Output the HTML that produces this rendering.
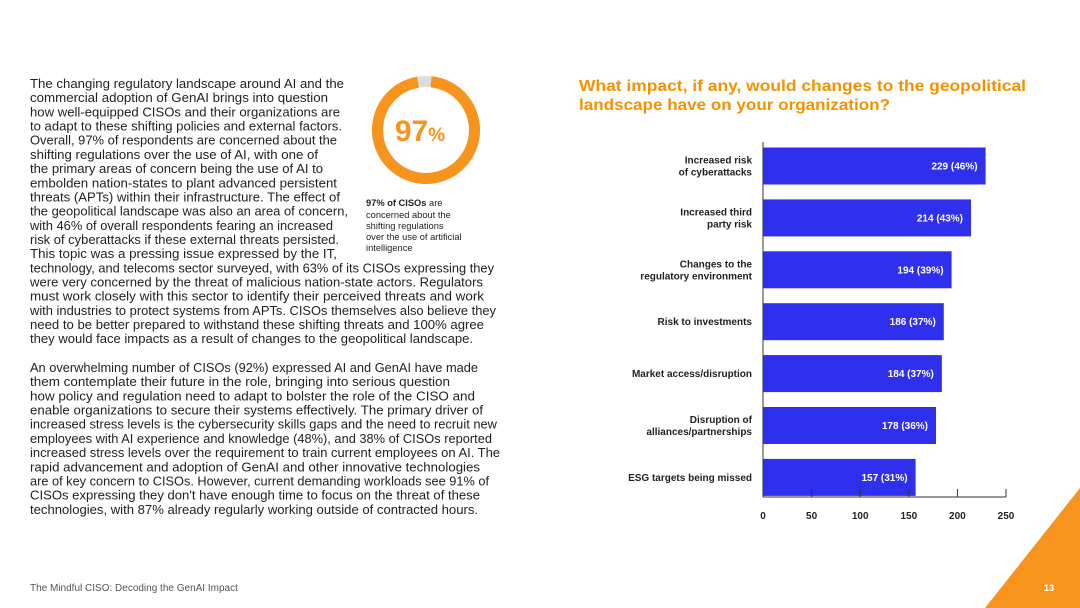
<!DOCTYPE html>
<html><head><meta charset="utf-8"><style>
html,body{margin:0;padding:0;background:#fff;}
body{width:1080px;height:608px;overflow:hidden;position:relative;font-family:"Liberation Sans",sans-serif;}
svg{position:absolute;left:0;top:0;}
</style></head><body>
<svg id="page" width="1080" height="608" viewBox="0 0 1080 608">
  <polygon points="1080,488 1080,608 985,608" fill="#f7941d"/>
  <text x="1044" y="591" font-size="9" font-weight="bold" fill="#fff">13</text>
  <text x="30" y="591" font-size="10" fill="#555">The Mindful CISO: Decoding the GenAI Impact</text>

  <g>
    <circle cx="426" cy="130" r="48.5" fill="none" stroke="#ddd" stroke-width="11"/>
    <circle id="donutArc" cx="426" cy="130" r="48.5" fill="none" stroke="#f7941d" stroke-width="11" transform="rotate(-84 426 130)"/>
    <text x="420" y="141" text-anchor="middle" font-size="30" font-weight="bold" fill="#f7941d">97<tspan font-size="19">%</tspan></text>
  </g>
  <g font-size="9.3" fill="#222">
    <text x="366" y="206"><tspan font-weight="bold">97% of CISOs</tspan> are</text>
    <text x="366" y="218">concerned about the</text>
    <text x="366" y="229">shifting regulations</text>
    <text x="366" y="240">over the use of artificial</text>
    <text x="366" y="251">intelligence</text>
  </g>

  <g id="bodytext" font-size="12.5" fill="#222"></g>

  <g font-size="16" font-weight="bold" fill="#f39200">
    <text x="579" y="91" textLength="447" lengthAdjust="spacingAndGlyphs">What impact, if any, would changes to the geopolitical</text>
    <text x="579" y="110" textLength="311" lengthAdjust="spacingAndGlyphs">landscape have on your organization?</text>
  </g>
  <g id="chart"></g>
</svg>
<script>
const categories=[["Increased risk","of cyberattacks"],["Increased third","party risk"],["Changes to the","regulatory environment"],["Risk to investments"],["Market access/disruption"],["Disruption of","alliances/partnerships"],["ESG targets being missed"]];
const values=[229,214,194,186,184,178,157];
const pctLabels=["46%","43%","39%","37%","37%","36%","31%"];
const ticks=[0,50,100,150,200,250];

const NS="http://www.w3.org/2000/svg";
function mk(tag,attrs,parent){const e=document.createElementNS(NS,tag);for(const k in attrs)e.setAttribute(k,attrs[k]);parent.appendChild(e);return e;}

const arc=document.getElementById('donutArc');
const C=2*Math.PI*48.5;
arc.setAttribute('stroke-dasharray',(C*0.955)+' '+C);

const p1=[["The changing regulatory landscape around AI and the",344],["commercial adoption of GenAI brings into question",328],["how well-equipped CISOs and their organizations are",340],["to adapt to these shifting policies and external factors.",342],["Overall, 97% of respondents are concerned about the",337],["shifting regulations over the use of AI, with one of",318],["the primary areas of concern being the use of AI to",323],["embolden nation-states to plant advanced persistent",337],["threats (APTs) within their infrastructure. The effect of",340],["the geopolitical landscape was also an area of concern,",348],["with 46% of overall respondents fearing an increased",333],["risk of cyberattacks if these external threats persisted.",339],["This topic was a pressing issue expressed by the IT,",337],["technology, and telecoms sector surveyed, with 63% of its CISOs expressing they",494],["were very concerned by the threat of malicious nation-state actors. Regulators",483],["must work closely with this sector to identify their perceived threats and work",484],["with industries to protect systems from APTs. CISOs themselves also believe they",496],["need to be better prepared to withstand these shifting threats and 100% agree",484],["they would face impacts as a result of changes to the geopolitical landscape.",473]];
const p2=[["An overwhelming number of CISOs (92%) expressed AI and GenAI have made",478],["them contemplate their future in the role, bringing into serious question",450],["how policy and regulation need to adapt to bolster the role of the CISO and",475],["enable organizations to secure their systems effectively. The primary driver of",483],["increased stress levels is the cybersecurity skills gaps and the need to recruit new",497],["employees with AI experience and knowledge (48%), and 38% of CISOs reported",492],["increased stress levels over the requirement to train current employees on AI. The",500],["rapid advancement and adoption of GenAI and other innovative technologies",480],["are of key concern to CISOs. However, current demanding workloads see 91% of",489],["CISOs expressing they don't have enough time to focus on the threat of these",480],["technologies, with 87% already regularly working outside of contracted hours.",478]];
const bt=document.getElementById('bodytext');
function para(lines,y0){lines.forEach((l,i)=>{const t=mk('text',{x:30,y:(y0+i*14.18).toFixed(1),textLength:l[1]-30,lengthAdjust:'spacingAndGlyphs'},bt);t.textContent=l[0];});}
para(p1,88);para(p2,372);

const ch=document.getElementById('chart');
const x0=763,x1=1006,vmax=250;
const xs=v=>x0+(v/vmax)*(x1-x0);
const yc=i=>166+i*51.9;
const barH=37;
values.forEach((v,i)=>{
  const r=mk('rect',{x:x0,y:yc(i)-barH/2,width:xs(v)-x0,height:barH,fill:'#2f2fee'},ch);
  
  
  const t=mk('text',{x:xs(v)-8,y:yc(i)+3.5,'text-anchor':'end','font-size':10,'font-weight':'bold',fill:'#fff'},ch);
  t.textContent=v+' ('+pctLabels[i]+')';
  
  
  const lines=categories[i];
  lines.forEach((s,j)=>{
    const lt=mk('text',{x:752,y:yc(i)+3.5+(j-(lines.length-1)/2)*12,'text-anchor':'end','font-size':10,'font-weight':'bold',fill:'#222'},ch);
    lt.textContent=s;
    
    
  });
});
const ax=mk('line',{x1:x0,y1:142,x2:x0,y2:497,stroke:'#333','stroke-width':1},ch);


const bx=mk('line',{x1:x0,y1:497,x2:x1,y2:497,stroke:'#333','stroke-width':1},ch);


ticks.forEach(v=>{
  mk('line',{x1:xs(v),y1:489,x2:xs(v),y2:497,stroke:'#333'},ch);
  const t=mk('text',{x:xs(v),y:519,'text-anchor':'middle','font-size':10,'font-weight':'bold',fill:'#222'},ch);
  t.textContent=v;
  
  
});
</script>
</body></html>
